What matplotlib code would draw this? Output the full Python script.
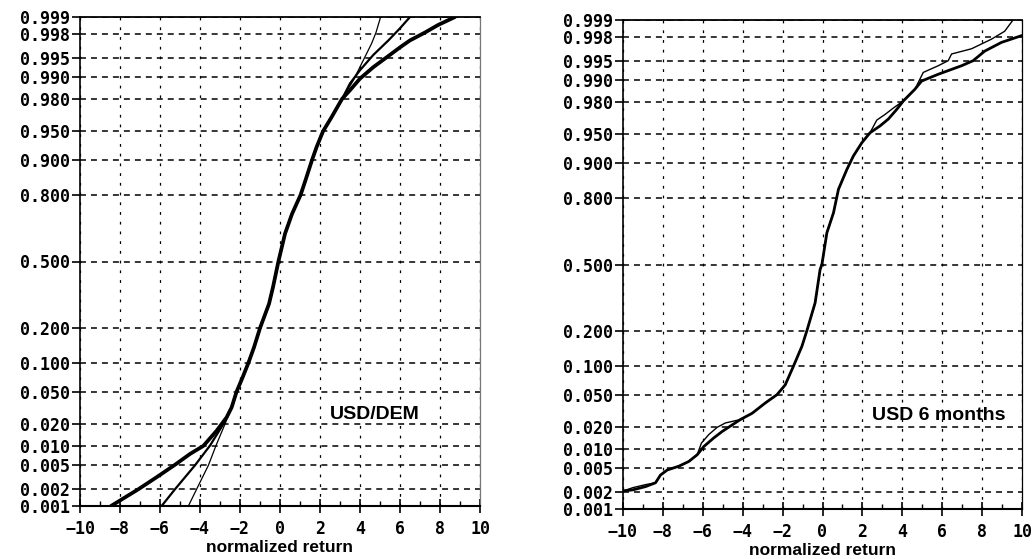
import math
import numpy as np
import matplotlib
matplotlib.use("Agg")
import matplotlib.pyplot as plt
from matplotlib.ticker import FixedLocator, FuncFormatter, MultipleLocator, NullLocator

plt.rcParams['lines.scale_dashes'] = False

# ---------------- data ----------------
prob_ticks = [0.001, 0.002, 0.005, 0.010, 0.020, 0.050, 0.100, 0.200, 0.500,
              0.800, 0.900, 0.950, 0.980, 0.990, 0.995, 0.998, 0.999]
x_ticks = [-10, -8, -6, -4, -2, 0, 2, 4, 6, 8, 10]

# USD/DEM panel: thick, medium and thin cumulative curves
dem_thick_x = [-8.45, -7.08, -6.17, -5.25, -4.5, -3.83, -3.17, -2.67, -2.42, -2.17,
               -1.87, -1.58, -1.3, -1.0, -0.55, -0.35, -0.08, 0.25, 0.6, 1.03,
               1.27, 1.6, 1.83, 2.15, 2.58, 3.1, 3.5, 4.0, 4.67, 5.5, 6.0, 6.5,
               7.25, 7.9, 8.75]
dem_thick_p = [0.001, 0.002, 0.0032, 0.0051, 0.0075, 0.0099, 0.0162, 0.0244, 0.0325, 0.05,
               0.0715, 0.1, 0.139, 0.2, 0.296, 0.373, 0.5, 0.637, 0.726, 0.8,
               0.847, 0.9, 0.926, 0.95, 0.966, 0.98, 0.9848, 0.9896, 0.993, 0.9955, 0.9966, 0.9974,
               0.9981, 0.9986, 0.999]

dem_med_x = [-5.92, -5.25, -4.25, -3.5, -2.83, -2.42, -2.17,
             -1.87, -1.58, -1.3, -1.0, -0.55, -0.35, -0.08, 0.25, 0.6, 1.03,
             1.27, 1.6, 1.83, 2.15, 2.58, 3.1, 3.5, 4.0, 4.67, 5.42, 6.0, 6.5]
dem_med_p = [0.001, 0.002, 0.005, 0.010, 0.020, 0.0325, 0.05,
             0.0715, 0.1, 0.139, 0.2, 0.296, 0.373, 0.5, 0.637, 0.726, 0.8,
             0.847, 0.9, 0.926, 0.95, 0.966, 0.98, 0.9878, 0.9922, 0.9955, 0.9974, 0.9984, 0.999]

dem_thin_x = [-4.58, -4.17, -3.58, -3.2, -2.75, -2.42, -2.17,
              -1.87, -1.58, -1.3, -1.0, -0.55, -0.35, -0.08, 0.25, 0.6, 1.03,
              1.27, 1.6, 1.83, 2.15, 2.58, 3.1, 3.67, 4.08, 4.33, 4.58, 4.8, 5.03]
dem_thin_p = [0.001, 0.002, 0.005, 0.010, 0.020, 0.0325, 0.05,
              0.0715, 0.1, 0.139, 0.2, 0.296, 0.373, 0.5, 0.637, 0.726, 0.8,
              0.847, 0.9, 0.926, 0.95, 0.966, 0.98, 0.989, 0.9938, 0.9957, 0.99707, 0.9981, 0.999]

# USD 6 months panel: thick and thin cumulative curves
usd_thick_x = [-10.0, -9.5, -8.87, -8.37, -8.12, -7.78, -7.2, -6.7, -6.28,
               -5.95, -5.45, -5.03, -4.53,
               -4.12, -3.53, -2.87, -2.28, -1.87, -1.45, -1.03, -0.78, -0.37, -0.12, -0.03,
               0.22, 0.55, 0.8, 1.22, 1.55, 1.97, 2.38,
               2.88, 3.3, 3.72,
               4.05, 4.63,
               4.97, 5.8, 6.97, 7.55, 8.13, 8.97, 10.0]
usd_thick_p = [0.0021, 0.0022, 0.0025, 0.0029, 0.0039, 0.0047, 0.0054, 0.0064, 0.0081,
               0.0107, 0.0142, 0.0174, 0.0213,
               0.025, 0.030, 0.040, 0.050, 0.064, 0.100, 0.151, 0.202, 0.314, 0.475, 0.5,
               0.656, 0.743, 0.829, 0.885, 0.915, 0.938, 0.952,
               0.960, 0.967, 0.975,
               0.9806, 0.9866,
               0.9898, 0.9919, 0.994, 0.995, 0.9965, 0.9975, 0.9981]

usd_thin_x = [-10.0, -9.5, -8.87, -8.37, -8.12, -7.78, -7.2, -6.7, -6.28,
              -6.07, -5.7, -5.28, -4.87,
              -4.12, -3.53, -2.87, -2.28, -1.87, -1.45, -1.03, -0.78, -0.37, -0.12, -0.03,
              0.22, 0.55, 0.8, 1.22, 1.55, 1.97, 2.38,
              2.72, 3.13, 3.55,
              4.05, 4.63,
              5.05, 5.8, 6.3, 6.47, 7.47, 8.47, 9.13, 9.55]
usd_thin_p = [0.0021, 0.0024, 0.0027, 0.0029, 0.0039, 0.0047, 0.0054, 0.0064, 0.0081,
              0.012, 0.0158, 0.0198, 0.0226,
              0.025, 0.030, 0.040, 0.050, 0.064, 0.100, 0.151, 0.202, 0.314, 0.475, 0.5,
              0.656, 0.743, 0.829, 0.885, 0.915, 0.938, 0.952,
              0.966, 0.971, 0.976,
              0.9806, 0.9866,
              0.9924, 0.994, 0.995, 0.9961, 0.9968, 0.9978, 0.9984, 0.999]

# ---------------- normal probability scale ----------------
_a = [-3.969683028665376e+01, 2.209460984245205e+02, -2.759285104469687e+02,
      1.383577518672690e+02, -3.066479806614716e+01, 2.506628277459239e+00]
_b = [-5.447609879822406e+01, 1.615858368580409e+02, -1.556989798598866e+02,
      6.680131188771972e+01, -1.328068155288572e+01]
_c = [-7.784894002430293e-03, -3.223964580411365e-01, -2.400758277161838e+00,
      -2.549671010114201e+00, 4.374664141464968e+00, 2.938163982698783e+00]
_d = [7.784695709041462e-03, 3.224671290700398e-01, 2.445134137142996e+00,
      3.754408661907416e+00]


def norm_ppf(p):
    arr = np.asarray(p, dtype=float)
    shape = arr.shape
    p1 = np.clip(np.atleast_1d(arr).ravel(), 1e-12, 1 - 1e-12)
    out = np.empty_like(p1)
    lo = p1 < 0.02425
    hi = p1 > 1 - 0.02425
    mid = ~(lo | hi)
    q = p1[mid] - 0.5
    r = q * q
    out[mid] = ((((((_a[0] * r + _a[1]) * r + _a[2]) * r + _a[3]) * r + _a[4]) * r + _a[5]) * q /
                (((((_b[0] * r + _b[1]) * r + _b[2]) * r + _b[3]) * r + _b[4]) * r + 1))
    q = np.sqrt(-2 * np.log(p1[lo]))
    out[lo] = ((((((_c[0] * q + _c[1]) * q + _c[2]) * q + _c[3]) * q + _c[4]) * q + _c[5]) /
               ((((_d[0] * q + _d[1]) * q + _d[2]) * q + _d[3]) * q + 1))
    q = np.sqrt(-2 * np.log(1 - p1[hi]))
    out[hi] = -((((((_c[0] * q + _c[1]) * q + _c[2]) * q + _c[3]) * q + _c[4]) * q + _c[5]) /
                ((((_d[0] * q + _d[1]) * q + _d[2]) * q + _d[3]) * q + 1))
    return out.reshape(shape)


_erf = np.vectorize(math.erf, otypes=[float])


def norm_cdf(z):
    z = np.asarray(z, dtype=float)
    return 0.5 * (1.0 + _erf(z / math.sqrt(2.0)))


# ---------------- figure ----------------
W, H = 1034, 559
fig = plt.figure(figsize=(W / 100, H / 100), dpi=100)

tick_font = dict(family='DejaVu Sans Mono', size=12, weight='bold')
label_font = dict(family='Liberation Sans', size=12.5, weight='bold')


def setup(ax, right_color):
    ax.set_yscale('function', functions=(norm_ppf, norm_cdf))
    ax.set_ylim(0.001, 0.999)
    ax.set_xlim(-10, 10)
    ax.yaxis.set_major_locator(FixedLocator(prob_ticks))
    ax.yaxis.set_minor_locator(NullLocator())
    ax.yaxis.set_major_formatter(FuncFormatter(lambda v, pos: f"{v:.3f}"))
    ax.xaxis.set_major_locator(FixedLocator(x_ticks))
    ax.xaxis.set_minor_locator(MultipleLocator(1))
    ax.xaxis.set_major_formatter(FuncFormatter(lambda v, pos: f"{int(round(v))}".replace('-', '\u2212')))
    ax.tick_params(axis='y', which='major', direction='out', length=6, width=1.2, pad=1.5)
    ax.tick_params(axis='x', which='major', direction='inout', length=9.5, width=1.2, pad=5)
    ax.tick_params(axis='x', which='minor', direction='in', length=3.5, width=1.0)
    for lab in ax.get_xticklabels() + ax.get_yticklabels():
        lab.set_fontfamily(tick_font['family'])
        lab.set_fontsize(tick_font['size'])
        lab.set_fontweight(tick_font['weight'])
    ax.set_axisbelow(True)
    ax.yaxis.grid(True, which='major', color='black', linestyle=(0, (4.3, 3.6)), linewidth=1.1)
    ax.xaxis.grid(True, which='major', color='black', linestyle=(0, (2.0, 5.0)), linewidth=0.9)
    ax.spines['left'].set_linewidth(1.2)
    ax.spines['bottom'].set_linewidth(1.5)
    ax.spines['top'].set_linewidth(1.3)
    ax.spines['right'].set_linewidth(0.9)
    ax.spines['right'].set_color(right_color)
    ax.set_xlabel('normalized return', fontdict=label_font, labelpad=2)


ax1 = fig.add_axes([80 / W, 1 - 506 / H, 400 / W, 489 / H])
setup(ax1, '#777777')
ax1.plot(dem_thick_x, dem_thick_p, color='black', lw=2.7, solid_capstyle='round', solid_joinstyle='round')
ax1.plot(dem_med_x, dem_med_p, color='black', lw=1.6, solid_joinstyle='round')
ax1.plot(dem_thin_x, dem_thin_p, color='black', lw=0.9, solid_joinstyle='round')
ax1.text(4.75, 0.0264, 'USD/DEM', ha='center', va='center', family='Liberation Sans',
         fontsize=14, fontweight='bold')

ax2 = fig.add_axes([623 / W, 1 - 509 / H, 399 / W, 489 / H])
setup(ax2, 'black')
ax2.plot(usd_thick_x, usd_thick_p, color='black', lw=2.0, solid_joinstyle='round', clip_on=True)
ax2.plot(usd_thin_x, usd_thin_p, color='black', lw=1.0, solid_joinstyle='round', clip_on=True)
ax2.text(5.85, 0.028, 'USD 6 months', ha='center', va='center', family='Liberation Sans',
         fontsize=14, fontweight='bold')

fig.savefig('out.png', dpi=100)
